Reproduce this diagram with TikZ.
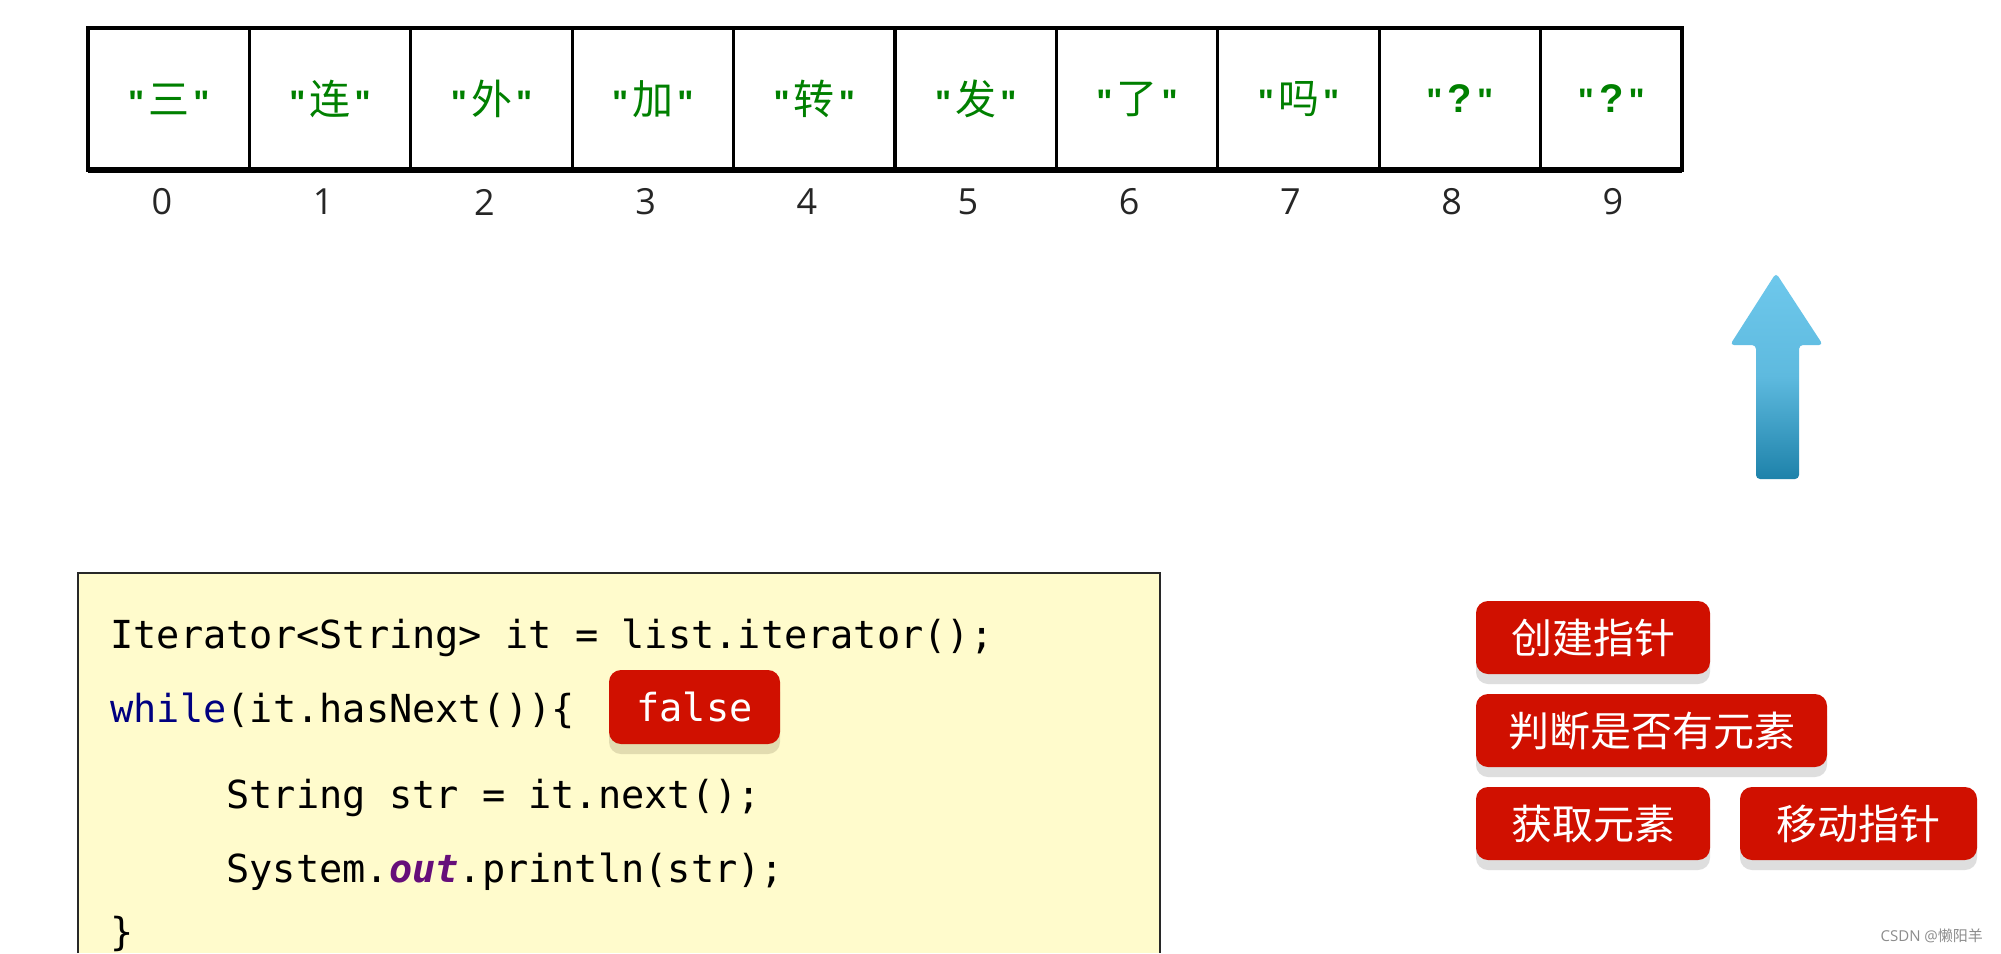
\documentclass[tikz,border=0pt]{standalone}
\usepackage{fontspec}
\setmainfont{Open Sans}
\setmonofont{DejaVu Sans Mono}
\newfontfamily\cjk{Noto Sans CJK SC}
\newfontfamily\quotefont{Liberation Sans}
\definecolor{cellgreen}{RGB}{0,128,0}
\definecolor{codebg}{RGB}{255,251,204}
\definecolor{codeborder}{RGB}{40,40,40}
\definecolor{btnred}{RGB}{208,16,0}
\definecolor{btnshadow}{RGB}{222,222,222}
\definecolor{falseshadow}{RGB}{226,220,176}
\definecolor{kwblue}{RGB}{0,0,128}
\definecolor{outpurple}{RGB}{102,14,122}
\definecolor{arrowlight}{RGB}{110,200,236}
\definecolor{arrowdark}{RGB}{30,130,170}
\newcommand{\cellq}{{\quotefont\bfseries\fontsize{17}{20}\selectfont"}}
\newcommand{\cellqm}{{\quotefont\bfseries\fontsize{20}{22}\selectfont?}}
\begin{document}
\begin{tikzpicture}[x=0.5pt,y=-0.5pt,
  cell/.style={draw=black,line width=1.6pt,minimum width=80.7pt,minimum height=71pt,inner sep=0pt,outer sep=0pt,
    text=cellgreen,font=\fontsize{17}{20}\selectfont},
  idx/.style={font=\fontsize{18}{20}\selectfont,text=black!85},
  code/.style={anchor=base west,inner sep=0pt,font=\ttfamily\fontsize{19.3}{22}\selectfont},
  btn/.style={fill=btnred,rounded corners=6pt,text=white,font=\cjk\fontsize{20.5}{24}\selectfont},
  btnshade/.style={fill=btnshadow,rounded corners=6pt}
]
\useasboundingbox (0,0) rectangle (2001,953);
\fill[white] (0,0) rectangle (2001,953);

% array cells
\foreach \i/\t in {0/三,1/连,2/外,3/加,4/转,5/发,6/了,7/吗} {
  \node[cell] (c\i) at ({88+161.4*(\i+0.5)},99) {\cellq\hspace{0.12em}{\cjk\fontsize{20.5}{22}\selectfont\t}\hspace{0.12em}\cellq};
}
\node[cell] (c8) at ({88+161.4*8.5},99) {\cellq\hspace{0.15em}\cellqm\hspace{0.15em}\cellq};
\node[cell,minimum width=70.7pt] (c9) at (1611.3,99) {\cellq\hspace{0.15em}\cellqm\hspace{0.15em}\cellq};
\draw[line width=2.6pt] (c0.south west) -- (c9.south east);
\foreach \i in {0,...,9} {
  \node[idx] (n\i) at ({162+161.2*\i},202) {\i};
}

% blue arrow
\shade[top color=arrowlight,bottom color=arrowdark,middle color=arrowlight!80!arrowdark,rounded corners=2pt]
  (1776,273) -- (1823,345) -- (1799,345) -- (1799,479) -- (1756,479) -- (1756,345) -- (1730,345) -- cycle;

% code box
\fill[codebg] (78,573) rectangle (1160,953);
\draw[codeborder,line width=1.1pt] (78,953) -- (78,573) -- (1160,573) -- (1160,953);
\node[code] (l1) at (110,648) {Iterator<String> it = list.iterator();};
\node[code] (l2) at (110,722) {\textcolor{kwblue}{while}(it.hasNext())\{};
\node[code] (l3) at (226,808) {String str = it.next();};
\node[code] (l4) at (226,882) {System.\textcolor{outpurple}{\bfseries\itshape out}.println(str);};
\node[code] (l5) at (110,945) {\}};

% false badge
\fill[falseshadow,rounded corners=6pt] (609,680) rectangle (780,754);
\node[fill=btnred,rounded corners=6pt,text=white,minimum width=85.5pt,minimum height=37pt,inner sep=0pt,
  font=\ttfamily\fontsize{19.3}{22}\selectfont] (fb) at (694.5,707) {false};

% buttons
\fill[btnshade] (1476,611) rectangle (1710,684);
\fill[btnshade] (1476,704) rectangle (1827,777);
\fill[btnshade] (1476,797) rectangle (1710,870);
\fill[btnshade] (1740,797) rectangle (1977,870);
\node[btn,minimum width=117pt,minimum height=36.5pt,inner sep=0pt] (b1) at (1593,637.5) {创建指针};
\node[btn,minimum width=175.5pt,minimum height=36.5pt,inner sep=0pt] (b2) at (1651.5,730.5) {判断是否有元素};
\node[btn,minimum width=117pt,minimum height=36.5pt,inner sep=0pt] (b3) at (1593,823.5) {获取元素};
\node[btn,minimum width=118.5pt,minimum height=36.5pt,inner sep=0pt] (b4) at (1858.5,823.5) {移动指针};

% watermark
\node[text=black!45,font=\fontsize{7.5}{9}\selectfont,anchor=east] (wm) at (1990,936) {CSDN @{\cjk 懒阳羊}};
\end{tikzpicture}
\end{document}
